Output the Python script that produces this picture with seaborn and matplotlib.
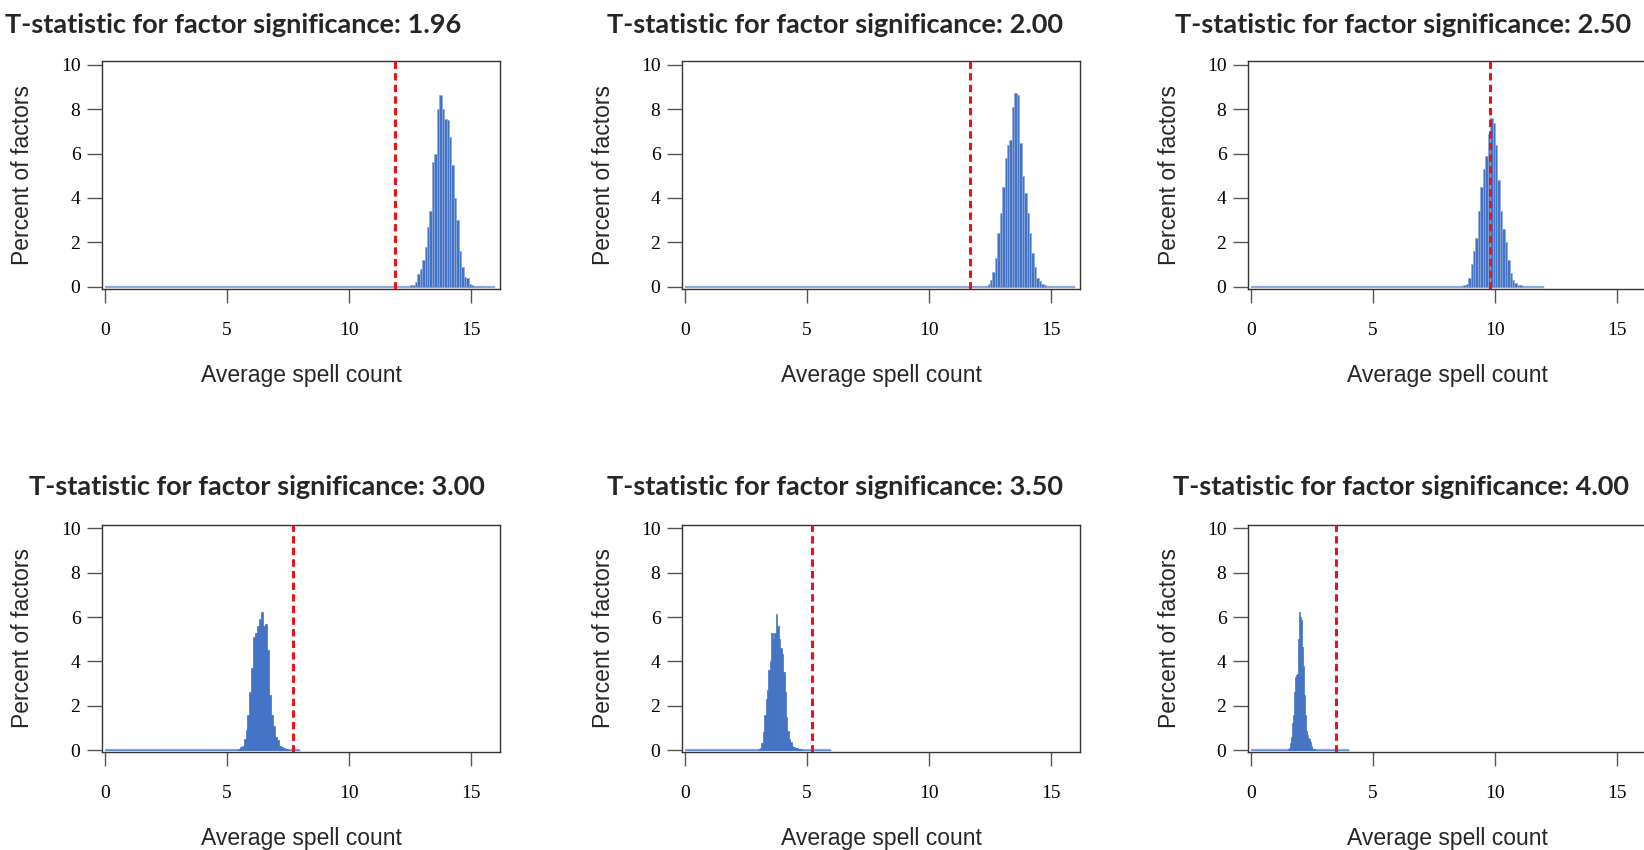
import numpy as np
import pandas as pd
import seaborn as sns
import matplotlib.pyplot as plt

# one panel per t-statistic cut-off
t_stats = ["1.96", "2.00", "2.50", "3.00", "3.50", "4.00"]
cutoffs = [11.9, 11.7, 9.8, 7.7, 5.2, 3.5]      # red dashed line
hist_max = [16, 16, 12, 8, 6, 4]                # histogram bins run from 0 to this
bin_width = [0.1, 0.1, 0.1, 0.08, 0.06, 0.04]
first_bin = [12.5, 12.3, 8.6, 5.44, 3.0, 1.52]  # left edge of first non-empty bin

# percent of factors per bin
pct_196 = [0.05, 0.08, 0.2, 0.55, 0.8, 1.2, 1.8, 2.7, 3.4, 5.6, 6.0, 8.0, 8.65, 8.0,
           7.55, 7.5, 6.75, 5.5, 4.0, 3.0, 1.6, 0.9, 0.45, 0.4, 0.1, 0.05, 0.04, 0.03, 0.02]
pct_200 = [0.03, 0.1, 0.3, 0.65, 1.3, 2.4, 3.3, 4.5, 5.8, 6.4, 6.6, 8.1, 8.75, 8.65,
           6.5, 5.0, 4.2, 3.3, 2.4, 1.5, 0.9, 0.4, 0.25, 0.1, 0.05, 0.03]
pct_250 = [0.03, 0.05, 0.1, 0.4, 1.0, 1.6, 2.2, 3.4, 4.5, 5.3, 5.9, 6.9, 7.6, 7.4,
           6.4, 4.8, 3.4, 2.6, 2.0, 1.2, 0.6, 0.3, 0.15, 0.08, 0.05, 0.03]
pct_300 = [0.05, 0.15, 0.2, 0.5, 0.9, 1.6, 2.6, 3.7, 5.1, 5.3, 5.6, 5.9, 6.25, 5.6,
           5.7, 4.5, 2.5, 1.6, 1.1, 0.6, 0.45, 0.2, 0.12, 0.08, 0.05, 0.03]
pct_350 = [0.03, 0.1, 0.3, 0.8, 1.6, 2.3, 2.7, 3.6, 4.0, 5.26, 5.0, 5.3, 6.15, 5.6,
           5.0, 4.6, 4.35, 3.5, 2.6, 1.5, 0.85, 0.5, 0.35, 0.2, 0.12, 0.1, 0.08,
           0.05, 0.04, 0.03]
pct_400 = [0.03, 0.1, 0.33, 0.6, 1.2, 1.6, 2.6, 3.3, 3.4, 3.45, 5.0, 6.25, 6.0, 5.85,
           4.65, 3.8, 2.5, 1.6, 0.85, 0.7, 0.55, 0.5, 0.35, 0.2, 0.1, 0.06, 0.04,
           0.03, 0.02]
pct = [pct_196, pct_200, pct_250, pct_300, pct_350, pct_400]

sns.set_theme(style="white")
plt.rcParams['font.family'] = ['Liberation Serif', 'DejaVu Serif']

W, H = 1644, 850
fig, axes = plt.subplots(2, 3, figsize=(W / 100, H / 100), dpi=100)

# pixel layout of the R-style panels
lefts = [102, 682, 1248]
tops = [61, 524.5]
box_w, box_h = 398, 227.5
title_x = [[233, 835, 1403], [257, 835, 1401]]
title_base = [33, 495]

for i, ax in enumerate(axes.flat):
    r, c = divmod(i, 3)
    ax.set_position([lefts[c] / W, 1 - (tops[r] + box_h) / H, box_w / W, box_h / H])

    bw = bin_width[i]
    heights = pct[i]
    centers = first_bin[i] + bw * (np.arange(len(heights)) + 0.5)
    df = pd.DataFrame({"spell": centers, "pct": heights})
    # wide bins keep light separators, narrow ones look solid
    edge = "#8eaadb" if bw >= 0.1 else "#4472c4"
    sns.histplot(data=df, x="spell", weights="pct", binwidth=bw,
                 binrange=(0, hist_max[i]), ax=ax,
                 color="#4472c4", edgecolor=edge, linewidth=0.5, alpha=1)
    # empty bins show as a flat line along zero
    ax.hlines(0, 0, hist_max[i], color="#8eaadb", lw=1.6, zorder=0.9)

    ax.axvline(cutoffs[i], color="#e8141c", lw=2.2, ls=(0, (2.4, 1.4)), zorder=5)

    ax.set_xlim(-0.123, 16.19)
    ax.set_ylim(-0.09, 10.18)
    ax.set_xticks([0, 5, 10, 15])
    ax.set_yticks([0, 2, 4, 6, 8, 10])
    ax.tick_params(axis="x", bottom=True, direction="out", length=10, width=1.0,
                   color="#555555", pad=14, labelsize=14, labelcolor="black")
    ax.tick_params(axis="y", left=True, direction="out", length=10.5, width=1.0,
                   color="#555555", pad=5, labelsize=14, labelcolor="black")
    for s in ax.spines.values():
        s.set_color("#333333")
        s.set_linewidth(1.0)

    ax.set_xlabel("Average spell count", family="Liberation Sans", fontsize=16.5)
    ax.set_ylabel("Percent of factors", family="Liberation Sans", fontsize=16.5)
    ax.xaxis.set_label_coords(0.5, -87 / box_h)
    ax.xaxis.label.set_va("center")
    ax.yaxis.set_label_coords(-79 / box_w, 0.5)
    ax.yaxis.label.set_va("center")

    fig.text(title_x[r][c] / W, 1 - title_base[r] / H,
             f"T-statistic for factor significance: {t_stats[i]}",
             ha="center", va="baseline", family="Lato", weight="bold", fontsize=19.5)

fig.savefig("out.png", dpi=100)
